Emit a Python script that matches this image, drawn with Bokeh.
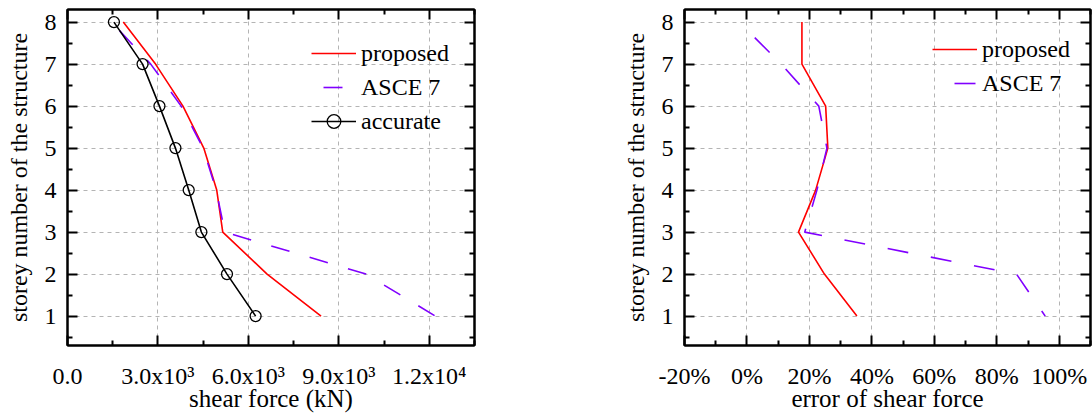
from bokeh.plotting import figure
from bokeh.layouts import row
from bokeh.models import FixedTicker, LinearAxis, Range1d, Legend, LegendItem
from bokeh.embed import file_html
from bokeh.resources import INLINE

# ---------------- data (listed from the top storey down) ----------------
storeys = [8, 7, 6, 5, 4, 3, 2, 1]
shear_proposed = [1850, 2920, 3830, 4520, 4950, 5150, 6620, 8410]
shear_asce7 = [1460, 2760, 3770, 4500, 4930, 5220, 9900, 12200]
shear_accurate = [1540, 2490, 3050, 3580, 4020, 4440, 5290, 6240]
err_proposed = [17.6, 17.6, 25.2, 25.9, 22.0, 16.5, 24.8, 35.2]
err_asce7 = [-2.5, 11.0, 23.0, 25.6, 22.4, 18.5, 86.3, 95.5]

shear_ticks = [0, 3000, 6000, 9000, 12000]
shear_tick_labels = ["0.0", "3.0x10\u00b3", "6.0x10\u00b3", "9.0x10\u00b3", "1.2x10\u2074"]
err_ticks = [-20, 0, 20, 40, 60, 80, 100]
err_tick_labels = ["-20%", "0%", "20%", "40%", "60%", "80%", "100%"]
storey_ticks = [1, 2, 3, 4, 5, 6, 7, 8]
storey_labels = ["1", "2", "3", "4", "5", "6", "7", "8"]

FONT = "Liberation Serif"
RED = "#ff0000"
PURPLE = "#8000ff"


def style_axis(ax, show_labels=True):
    ax.axis_line_color = "black"
    ax.axis_line_width = 2
    ax.major_tick_in = 10
    ax.major_tick_out = 0
    ax.minor_tick_in = 5
    ax.minor_tick_out = 0
    ax.major_tick_line_width = 2
    ax.minor_tick_line_width = 2
    ax.major_tick_line_color = "black"
    ax.minor_tick_line_color = "black"
    ax.major_label_text_font = FONT
    ax.axis_label_text_font = FONT
    ax.axis_label_text_font_style = "normal"
    ax.major_label_text_color = "black"
    ax.axis_label_text_color = "black"
    if show_labels:
        ax.major_label_text_font_size = "24px"
        ax.axis_label_text_font_size = "24px"
    else:
        ax.major_label_text_font_size = "1px"
        ax.major_label_text_color = None
        ax.major_label_standoff = 0


def make_fig(xr, xticks, xminor, xlabels, xtitle, width, mbl, mbr):
    p = figure(width=width, height=414, x_range=Range1d(*xr), y_range=Range1d(0.3, 8.3),
               output_backend="svg", toolbar_location=None,
               min_border_left=mbl, min_border_right=mbr, min_border_top=9, min_border_bottom=69)
    p.outline_line_color = "black"
    p.outline_line_width = 2
    p.background_fill_color = "white"
    p.border_fill_color = "white"
    yminor = [0.5 + i for i in range(8)]
    xa = p.xaxis[0]
    ya = p.yaxis[0]
    xa.ticker = FixedTicker(ticks=xticks, minor_ticks=xminor)
    ya.ticker = FixedTicker(ticks=storey_ticks, minor_ticks=yminor)
    xa.major_label_overrides = {t: l for t, l in zip(xticks, xlabels)}
    ya.major_label_overrides = {s: l for s, l in zip(storey_ticks, storey_labels)}
    style_axis(xa)
    style_axis(ya)
    xa.axis_label = xtitle
    ya.axis_label = "storey number of the structure"
    xa.major_label_standoff = 17
    xa.axis_label_standoff = -7
    ya.major_label_standoff = 11
    ya.axis_label_standoff = 10
    ya.axis_label_text_font_size = "24px"
    xa.axis_label_text_font_size = "25px"
    top = LinearAxis(ticker=FixedTicker(ticks=xticks, minor_ticks=xminor))
    right = LinearAxis(ticker=FixedTicker(ticks=storey_ticks, minor_ticks=yminor))
    style_axis(top, False)
    style_axis(right, False)
    p.add_layout(top, "above")
    p.add_layout(right, "right")
    for g in (p.xgrid, p.ygrid):
        g.grid_line_color = "#b4b4b4"
        g.grid_line_dash = "4 4"
        g.grid_line_width = 1
    return p


# ---------------- left: shear force ----------------
p1 = make_fig((0, 13500), shear_ticks, [1500, 4500, 7500, 10500, 13500], shear_tick_labels,
              "shear force (kN)", 546, 67, 72)
r1 = p1.line(shear_proposed, storeys, line_color=RED, line_width=1.6)
r2 = p1.line(shear_asce7, storeys, line_color=PURPLE, line_width=1.6, line_dash="19 21",
             line_dash_offset=28)
r3 = p1.line(shear_accurate, storeys, line_color="black", line_width=1.6)
r4 = p1.scatter(shear_accurate, storeys, marker="circle", size=11, fill_color=None,
                line_color="black", line_width=1.3)
leg1 = Legend(items=[LegendItem(label="proposed", renderers=[r1]),
                     LegendItem(label="ASCE 7", renderers=[r2]),
                     LegendItem(label="accurate", renderers=[r3, r4])],
              location=(244, 207))
p1.add_layout(leg1)

# ---------------- right: error ----------------
p2 = make_fig((-20, 110), err_ticks, [-10, 10, 30, 50, 70, 90, 110], err_tick_labels,
              "error of shear force", 546, 138, 2)
q1 = p2.line(err_proposed, storeys, line_color=RED, line_width=1.6)
q2 = p2.line(err_asce7, storeys, line_color=PURPLE, line_width=1.6, line_dash="21 23",
             line_dash_offset=22)
leg2 = Legend(items=[LegendItem(label="proposed", renderers=[q1]),
                     LegendItem(label="ASCE 7", renderers=[q2])],
              location=(248, 245))
p2.add_layout(leg2)

for lg in (leg1, leg2):
    lg.background_fill_alpha = 0
    lg.border_line_color = None
    lg.padding = 0
    lg.margin = 0
    lg.spacing = 0
    lg.glyph_width = 45
    lg.glyph_height = 34
    lg.label_height = 34
    lg.label_standoff = 5
    lg.label_text_font = FONT
    lg.label_text_font_size = "24px"
    lg.label_text_color = "black"

layout = row(p1, p2)
open("out.html", "w").write(file_html(layout, INLINE))
